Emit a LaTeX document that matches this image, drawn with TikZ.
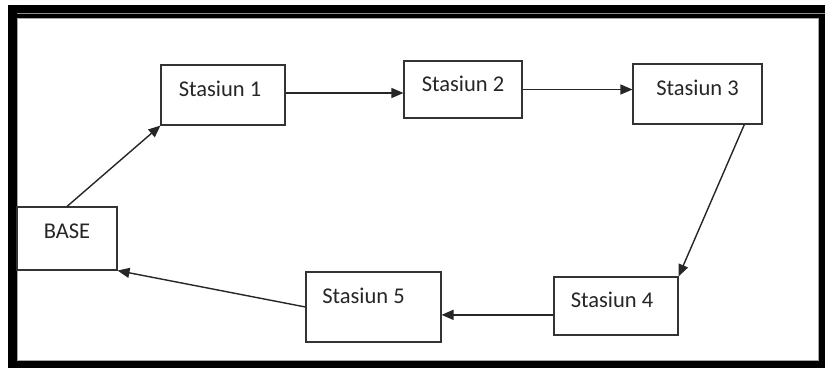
\documentclass[tikz,border=0pt]{standalone}
\usepackage{fontspec}
\setmainfont{Carlito}
\usetikzlibrary{arrows.meta, calc}

\tikzset{
	stasiun/.style={draw=black!80, line width=1.1pt, minimum width=124pt, minimum height=60pt,
		font=\fontsize{22.5}{26}\selectfont, text=black!85, text height=15pt, text depth=13pt},
	jalur/.style={-{Triangle[length=12pt,width=10pt]}, line width=1.4pt, black!85}
}

\begin{document}
\begin{tikzpicture}[x=1pt, y=-1pt]
				\useasboundingbox (0,0) rectangle (825,368);
				% bingkai
				\fill[black] (8,5) rectangle (825,368);
				\fill[white] (17,18) rectangle (818,360);
				\draw[black!45, line width=0.8pt] (17,13) -- (825,13);
				\draw[black!35, line width=0.6pt] (17.5,18) rectangle (818,360);
				% stasiun
				\node [stasiun, minimum width=100pt, minimum height=63pt, text depth=16pt] (base) at (67,238.5) {BASE};
				\node [stasiun] (s1) at (223,95) {\hspace*{-6pt}Stasiun 1};
				\node [stasiun, minimum width=118pt, minimum height=57pt, text depth=12pt] (s2) at (463,89.5) {Stasiun 2};
				\node [stasiun, minimum width=129pt] (s3) at (697.5,94) {Stasiun 3};
				\node [stasiun, minimum height=58pt] (s4) at (616,306) {\hspace*{-8pt}Stasiun 4};
				\node [stasiun, minimum width=135pt, minimum height=70pt, text depth=23pt] (s5) at (373.5,307) {\hspace*{-20pt}Stasiun 5};
				% jalur
				\draw [jalur] (base.north) -- (s1.south west);
				\draw [jalur] ([yshift=2pt]s1.east) -- ([yshift=2pt]s1.east -| s2.west);
				\draw [jalur] (s2.east) -- (s2.east -| s3.west);
				\draw [jalur] ($(s3.south)!0.72!(s3.south east)$) -- (s4.north east);
				\draw [jalur] ($(s4.west)!0.3!(s4.south west)$) coordinate (k4) -- (k4 -| s5.east);
				\draw [jalur] (s5.west) -- (base.south east);
			\end{tikzpicture}
\end{document}
